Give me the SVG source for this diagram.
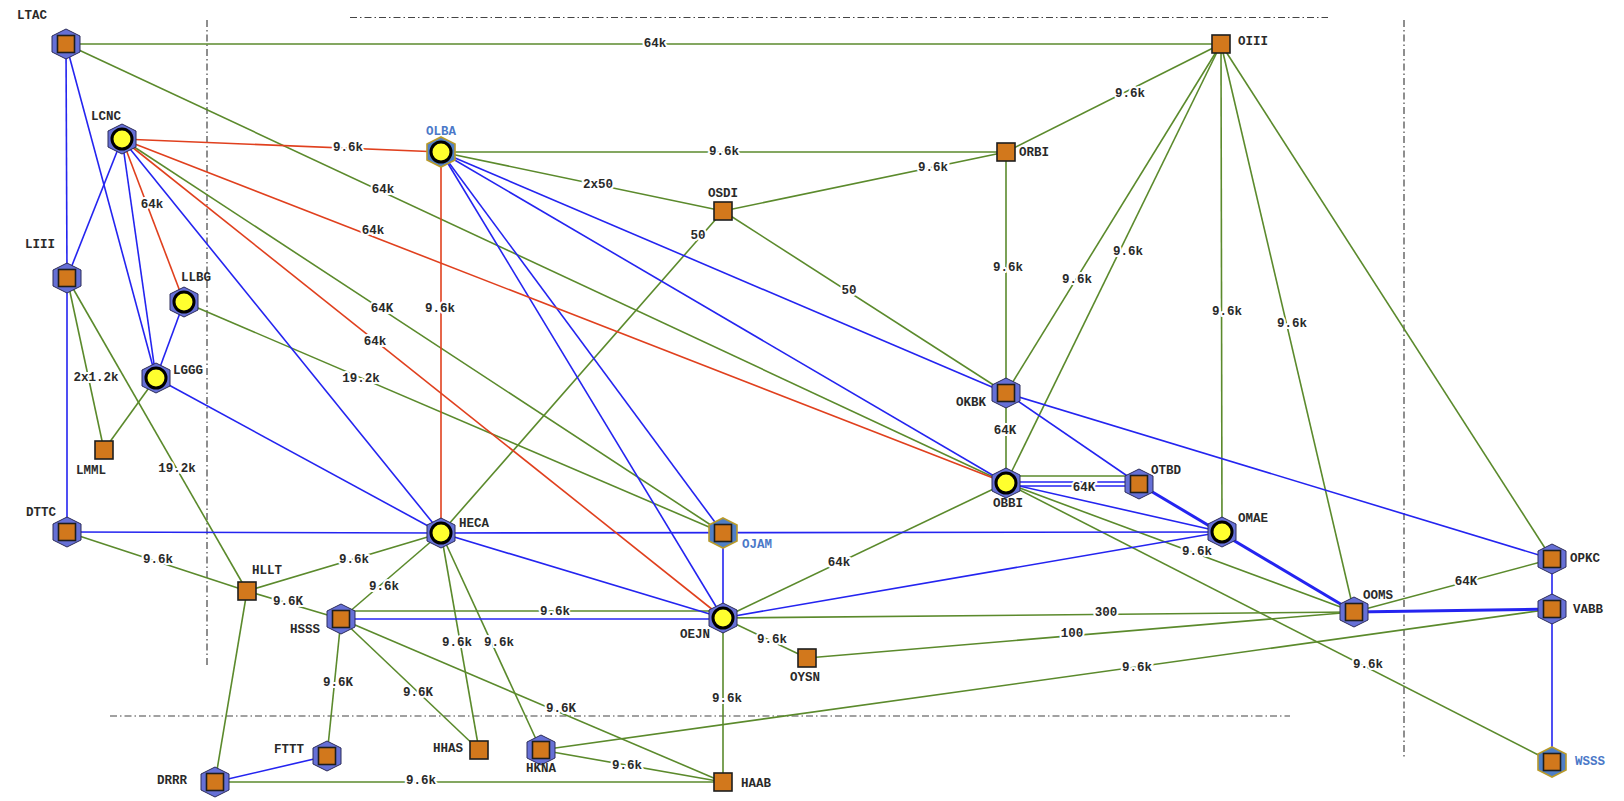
<svg xmlns="http://www.w3.org/2000/svg" xmlns:xlink="http://www.w3.org/1999/xlink" width="1624" height="801" viewBox="0 0 1624 801">
<style>
.g{stroke:#5b8a2c;stroke-width:1.6;fill:none}
.b{stroke:#2424f0;stroke-width:1.6;fill:none}
.bt{stroke:#2424f0;stroke-width:3;fill:none}
.r{stroke:#e0401e;stroke-width:1.6;fill:none}
.dash{stroke:#444;stroke-width:1.2;stroke-dasharray:7 3 1.5 3;fill:none}
text{font-family:"Liberation Mono","DejaVu Sans Mono",monospace;font-size:12.5px;font-weight:bold}
.nl{fill:#2a2a2a;dominant-baseline:central}
.nlb{fill:#4a78c8;dominant-baseline:central}
.el{fill:#2a2a2a;text-anchor:middle;dominant-baseline:central;paint-order:stroke;stroke:#fff;stroke-width:4;stroke-linejoin:round}
.hex{fill:#6670d6;stroke:#2c2c5a;stroke-width:1}
.hexg{fill:#4f7fc7;stroke:#b89a2a;stroke-width:1.6}
.sq{fill:#d2781c;stroke:#1e1e1e;stroke-width:1.6}
.ci{fill:#ffff2e;stroke:#000;stroke-width:3}
</style>
<defs>
<polygon id="hx" points="0,-15 14,-8 14,8 0,15 -14,8 -14,-8"/>
<g id="hexsq"><use href="#hx" class="hex"/><rect x="-8.5" y="-8.5" width="17" height="17" class="sq"/></g>
<g id="hexci"><use href="#hx" class="hex"/><circle r="10" class="ci"/></g>
<g id="hexgsq"><use href="#hx" class="hexg"/><rect x="-8.5" y="-8.5" width="17" height="17" class="sq"/></g>
<g id="hexgci"><use href="#hx" class="hexg"/><circle r="10" class="ci"/></g>
<rect id="psq" x="-9" y="-9" width="18" height="18" class="sq"/>
</defs>
<rect width="1624" height="801" fill="#fff"/>
<g id="boundaries">
<line class="dash" x1="207" y1="20" x2="207" y2="665"/>
<line class="dash" x1="350" y1="17.5" x2="1328" y2="17.5"/>
<line class="dash" x1="1404" y1="20" x2="1404" y2="758"/>
<line class="dash" x1="110" y1="716" x2="1290" y2="716"/>
</g>
<g id="connectors">
<line class="g" x1="66" y1="44" x2="1221" y2="44"/>
<line class="g" x1="66" y1="44" x2="1006" y2="483"/>
<line class="g" x1="122" y1="139" x2="723" y2="533"/>
<line class="g" x1="67" y1="278" x2="104" y2="450"/>
<line class="g" x1="67" y1="278" x2="247" y2="591"/>
<line class="g" x1="184" y1="302" x2="723" y2="533"/>
<line class="g" x1="156" y1="378" x2="104" y2="450"/>
<line class="g" x1="67" y1="532" x2="247" y2="591"/>
<line class="g" x1="247" y1="591" x2="441" y2="533"/>
<line class="g" x1="247" y1="591" x2="341" y2="619"/>
<line class="g" x1="247" y1="591" x2="215" y2="782"/>
<line class="g" x1="441" y1="533" x2="341" y2="619"/>
<line class="g" x1="441" y1="533" x2="723" y2="211"/>
<line class="g" x1="441" y1="533" x2="479" y2="750"/>
<line class="g" x1="441" y1="533" x2="541" y2="750"/>
<line class="g" x1="341" y1="611" x2="723" y2="611"/>
<line class="g" x1="341" y1="619" x2="327" y2="756"/>
<line class="g" x1="341" y1="619" x2="479" y2="750"/>
<line class="g" x1="341" y1="619" x2="723" y2="782"/>
<line class="g" x1="215" y1="782" x2="723" y2="782"/>
<line class="g" x1="541" y1="750" x2="723" y2="782"/>
<line class="g" x1="541" y1="750" x2="1552" y2="609"/>
<line class="g" x1="723" y1="618" x2="723" y2="782"/>
<line class="g" x1="723" y1="618" x2="807" y2="658"/>
<line class="g" x1="723" y1="618" x2="1006" y2="483"/>
<line class="g" x1="723" y1="618" x2="1354" y2="612"/>
<line class="g" x1="807" y1="658" x2="1354" y2="612"/>
<line class="g" x1="441" y1="152" x2="1006" y2="152"/>
<line class="g" x1="441" y1="152" x2="723" y2="211"/>
<line class="g" x1="723" y1="211" x2="1006" y2="152"/>
<line class="g" x1="723" y1="211" x2="1006" y2="393"/>
<line class="g" x1="1006" y1="152" x2="1221" y2="44"/>
<line class="g" x1="1006" y1="152" x2="1006" y2="393"/>
<line class="g" x1="1221" y1="44" x2="1006" y2="393"/>
<line class="g" x1="1221" y1="44" x2="1006" y2="483"/>
<line class="g" x1="1221" y1="44" x2="1222" y2="532"/>
<line class="g" x1="1221" y1="44" x2="1354" y2="612"/>
<line class="g" x1="1221" y1="44" x2="1552" y2="559"/>
<line class="g" x1="1006" y1="393" x2="1006" y2="483"/>
<line class="g" x1="1006" y1="476" x2="1139" y2="476"/>
<line class="g" x1="1006" y1="483" x2="1354" y2="612"/>
<line class="g" x1="1006" y1="483" x2="1552" y2="762"/>
<line class="g" x1="1354" y1="612" x2="1552" y2="559"/>
<line class="b" x1="66" y1="44" x2="67" y2="278"/>
<line class="b" x1="66" y1="44" x2="156" y2="378"/>
<line class="b" x1="122" y1="139" x2="67" y2="278"/>
<line class="b" x1="122" y1="139" x2="156" y2="378"/>
<line class="b" x1="122" y1="139" x2="441" y2="533"/>
<line class="b" x1="67" y1="278" x2="67" y2="532"/>
<line class="b" x1="184" y1="302" x2="156" y2="378"/>
<line class="b" x1="156" y1="378" x2="441" y2="533"/>
<line class="b" x1="67" y1="532" x2="441" y2="533"/>
<line class="b" x1="441" y1="533" x2="1222" y2="532"/>
<line class="b" x1="441" y1="533" x2="723" y2="618"/>
<line class="b" x1="341" y1="619" x2="723" y2="619"/>
<line class="b" x1="327" y1="756" x2="215" y2="782"/>
<line class="b" x1="441" y1="152" x2="723" y2="533"/>
<line class="b" x1="441" y1="152" x2="723" y2="618"/>
<line class="b" x1="441" y1="152" x2="1006" y2="393"/>
<line class="b" x1="441" y1="152" x2="1006" y2="483"/>
<line class="b" x1="723" y1="533" x2="723" y2="618"/>
<line class="b" x1="723" y1="618" x2="1222" y2="532"/>
<line class="b" x1="1006" y1="393" x2="1139" y2="484"/>
<line class="b" x1="1006" y1="393" x2="1552" y2="559"/>
<line class="b" x1="1006" y1="482" x2="1139" y2="482"/>
<line class="b" x1="1006" y1="486" x2="1139" y2="486"/>
<line class="b" x1="1006" y1="483" x2="1222" y2="532"/>
<line class="bt" x1="1139" y1="484" x2="1354" y2="612"/>
<line class="bt" x1="1354" y1="612" x2="1552" y2="609"/>
<line class="b" x1="1552" y1="559" x2="1552" y2="609"/>
<line class="b" x1="1552" y1="609" x2="1552" y2="762"/>
<line class="r" x1="122" y1="139" x2="441" y2="152"/>
<line class="r" x1="122" y1="139" x2="184" y2="302"/>
<line class="r" x1="122" y1="139" x2="1006" y2="483"/>
<line class="r" x1="122" y1="139" x2="723" y2="618"/>
<line class="r" x1="441" y1="152" x2="441" y2="533"/>
<g id="edge-labels">
<text class="el" x="655" y="44">64k</text>
<text class="el" x="348" y="148">9.6k</text>
<text class="el" x="383" y="190">64k</text>
<text class="el" x="152" y="205">64k</text>
<text class="el" x="373" y="231">64k</text>
<text class="el" x="382" y="309">64K</text>
<text class="el" x="440" y="309">9.6k</text>
<text class="el" x="375" y="342">64k</text>
<text class="el" x="96" y="378">2x1.2k</text>
<text class="el" x="361" y="379">19.2k</text>
<text class="el" x="177" y="469">19.2k</text>
<text class="el" x="158" y="560">9.6k</text>
<text class="el" x="354" y="560">9.6k</text>
<text class="el" x="288" y="602">9.6K</text>
<text class="el" x="384" y="587">9.6k</text>
<text class="el" x="338" y="683">9.6K</text>
<text class="el" x="418" y="693">9.6K</text>
<text class="el" x="457" y="643">9.6k</text>
<text class="el" x="499" y="643">9.6k</text>
<text class="el" x="555" y="612">9.6k</text>
<text class="el" x="561" y="709">9.6K</text>
<text class="el" x="421" y="781">9.6k</text>
<text class="el" x="627" y="766">9.6k</text>
<text class="el" x="727" y="699">9.6k</text>
<text class="el" x="772" y="640">9.6k</text>
<text class="el" x="839" y="563">64k</text>
<text class="el" x="598" y="185">2x50</text>
<text class="el" x="724" y="152">9.6k</text>
<text class="el" x="698" y="236">50</text>
<text class="el" x="933" y="168">9.6k</text>
<text class="el" x="849" y="291">50</text>
<text class="el" x="1130" y="94">9.6k</text>
<text class="el" x="1008" y="268">9.6k</text>
<text class="el" x="1077" y="280">9.6k</text>
<text class="el" x="1128" y="252">9.6k</text>
<text class="el" x="1227" y="312">9.6k</text>
<text class="el" x="1292" y="324">9.6k</text>
<text class="el" x="1005" y="431">64K</text>
<text class="el" x="1084" y="488">64K</text>
<text class="el" x="1197" y="552">9.6k</text>
<text class="el" x="1368" y="665">9.6k</text>
<text class="el" x="1137" y="668">9.6k</text>
<text class="el" x="1466" y="582">64K</text>
<text class="el" x="1106" y="613">300</text>
<text class="el" x="1072" y="634">100</text>
</g>
</g>
<g id="LTAC"><use href="#hexsq" x="66" y="44"/><text class="nl" x="17" y="16">LTAC</text></g>
<g id="LCNC"><use href="#hexci" x="122" y="139"/><text class="nl" x="91" y="117">LCNC</text></g>
<g id="OLBA"><use href="#hexgci" x="441" y="152"/><text class="nlb" x="426" y="132">OLBA</text></g>
<g id="LIII"><use href="#hexsq" x="67" y="278"/><text class="nl" x="25" y="245">LIII</text></g>
<g id="LLBG"><use href="#hexci" x="184" y="302"/><text class="nl" x="181" y="278">LLBG</text></g>
<g id="LGGG"><use href="#hexci" x="156" y="378"/><text class="nl" x="173" y="371">LGGG</text></g>
<g id="LMML"><use href="#psq" x="104" y="450"/><text class="nl" x="76" y="471">LMML</text></g>
<g id="DTTC"><use href="#hexsq" x="67" y="532"/><text class="nl" x="26" y="513">DTTC</text></g>
<g id="HECA"><use href="#hexci" x="441" y="533"/><text class="nl" x="459" y="524">HECA</text></g>
<g id="HLLT"><use href="#psq" x="247" y="591"/><text class="nl" x="252" y="571">HLLT</text></g>
<g id="HSSS"><use href="#hexsq" x="341" y="619"/><text class="nl" x="290" y="630">HSSS</text></g>
<g id="FTTT"><use href="#hexsq" x="327" y="756"/><text class="nl" x="274" y="750">FTTT</text></g>
<g id="DRRR"><use href="#hexsq" x="215" y="782"/><text class="nl" x="157" y="781">DRRR</text></g>
<g id="HHAS"><use href="#psq" x="479" y="750"/><text class="nl" x="433" y="749">HHAS</text></g>
<g id="HKNA"><use href="#hexsq" x="541" y="750"/><text class="nl" x="526" y="769">HKNA</text></g>
<g id="HAAB"><use href="#psq" x="723" y="782"/><text class="nl" x="741" y="784">HAAB</text></g>
<g id="OSDI"><use href="#psq" x="723" y="211"/><text class="nl" x="708" y="194">OSDI</text></g>
<g id="OJAM"><use href="#hexgsq" x="723" y="533"/><text class="nlb" x="742" y="545">OJAM</text></g>
<g id="OEJN"><use href="#hexci" x="723" y="618"/><text class="nl" x="680" y="635">OEJN</text></g>
<g id="OYSN"><use href="#psq" x="807" y="658"/><text class="nl" x="790" y="678">OYSN</text></g>
<g id="ORBI"><use href="#psq" x="1006" y="152"/><text class="nl" x="1019" y="153">ORBI</text></g>
<g id="OIII"><use href="#psq" x="1221" y="44"/><text class="nl" x="1238" y="42">OIII</text></g>
<g id="OKBK"><use href="#hexsq" x="1006" y="393"/><text class="nl" x="956" y="403">OKBK</text></g>
<g id="OBBI"><use href="#hexci" x="1006" y="483"/><text class="nl" x="993" y="504">OBBI</text></g>
<g id="OTBD"><use href="#hexsq" x="1139" y="484"/><text class="nl" x="1151" y="471">OTBD</text></g>
<g id="OMAE"><use href="#hexci" x="1222" y="532"/><text class="nl" x="1238" y="519">OMAE</text></g>
<g id="OOMS"><use href="#hexsq" x="1354" y="612"/><text class="nl" x="1363" y="596">OOMS</text></g>
<g id="OPKC"><use href="#hexsq" x="1552" y="559"/><text class="nl" x="1570" y="559">OPKC</text></g>
<g id="VABB"><use href="#hexsq" x="1552" y="609"/><text class="nl" x="1573" y="610">VABB</text></g>
<g id="WSSS"><use href="#hexgsq" x="1552" y="762"/><text class="nlb" x="1575" y="762">WSSS</text></g>
</svg>
